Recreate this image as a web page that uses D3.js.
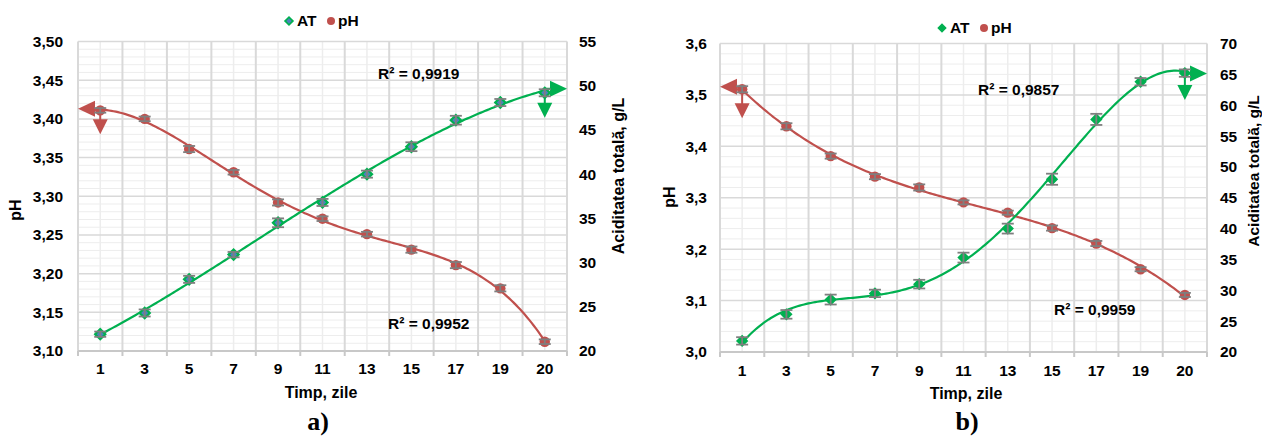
<!DOCTYPE html>
<html><head><meta charset="utf-8">
<script src="https://cdn.jsdelivr.net/npm/d3@7"></script>
<style>
body{margin:0;background:#fff}
svg{display:block}
text{font-family:"Liberation Sans",Arial,sans-serif;font-weight:bold;fill:#000}
</style>
</head><body>
<svg id="c" width="1262" height="437"></svg>
<script>
// ---------- DATA ----------
const days = ["1","3","5","7","9","11","13","15","17","19","20"];
const phA = [3.411,3.400,3.361,3.331,3.292,3.271,3.251,3.231,3.211,3.181,3.112];
const phErrA = [0.003,0.003,0.004,0.003,0.004,0.003,0.003,0.004,0.004,0.004,0.003];
const atA = [21.9,24.3,28.1,30.9,34.5,36.8,40.0,43.1,46.1,48.1,49.2];
const atErrA = [0.3,0.4,0.4,0.3,0.5,0.4,0.4,0.5,0.5,0.4,0.4];
const phB = [3.511,3.439,3.381,3.341,3.320,3.291,3.271,3.241,3.211,3.161,3.111];
const phErrB = [0.006,0.006,0.005,0.005,0.006,0.004,0.004,0.005,0.005,0.004,0.004];
const atB = [21.8,26.1,28.5,29.5,31.0,35.3,40.0,48.0,57.7,63.8,65.2];
const atErrB = [0.6,0.7,0.8,0.6,0.7,0.8,0.8,0.9,0.9,0.6,0.6];
const phTicksA = [3.10,3.15,3.20,3.25,3.30,3.35,3.40,3.45,3.50];
const atTicksA = [20,25,30,35,40,45,50,55];
const phTicksB = [3.0,3.1,3.2,3.3,3.4,3.5,3.6];
const atTicksB = [20,25,30,35,40,45,50,55,60,65,70];
const r2A = ["R² = 0,9919","R² = 0,9952"];
const r2B = ["R² = 0,9857","R² = 0,9959"];
const legendNames = ["AT","pH"];
const xTitle = "Timp, zile";
const yTitleL = "pH";
const yTitleR = "Aciditatea totală, g/L";
const panelLabels = ["a)","b)"];

const RED = "#c0504d", GREEN = "#00b050", BLUE = "#4f81bd", ERR = "#7f7f7f";
const svg = d3.select("#c");

function polyfit(xs, ys, deg){
  const c = 6, s = 5, n = deg+1;
  const M = Array.from({length:n},()=>new Array(n+1).fill(0));
  xs.forEach((x,k)=>{const t=(x-c)/s;
    for(let i=0;i<n;i++){for(let j=0;j<n;j++) M[i][j]+=Math.pow(t,i+j); M[i][n]+=Math.pow(t,i)*ys[k];}});
  for(let i=0;i<n;i++){
    let p=i; for(let r=i+1;r<n;r++) if(Math.abs(M[r][i])>Math.abs(M[p][i])) p=r;
    [M[i],M[p]]=[M[p],M[i]];
    for(let r=0;r<n;r++){ if(r===i) continue; const f=M[r][i]/M[i][i]; for(let q=i;q<=n;q++) M[r][q]-=f*M[i][q]; }
  }
  const coef = M.map((row,i)=>row[n]/row[i]);
  return x=>{const t=(x-c)/s; return coef.reduce((a,cf,i)=>a+cf*Math.pow(t,i),0);};
}

function chart(o){
  const {L,R,T,B} = o;
  const g = svg.append("g");
  const xb = d3.scaleBand().domain(days).range([L,R]);
  const xi = d3.scaleLinear().domain([0.5, days.length+0.5]).range([L,R]);
  const yl = d3.scaleLinear().domain(d3.extent(o.phTicks)).range([B,T]);
  const yr = d3.scaleLinear().domain(d3.extent(o.atTicks)).range([B,T]);
  const idx = days.map((d,i)=>i+1);

  // minor grid
  const minor=[];
  for(let i=0;i<o.phTicks.length-1;i++) for(let k=1;k<5;k++) minor.push(o.phTicks[i]+(o.phTicks[i+1]-o.phTicks[i])*k/5);
  g.append("g").selectAll("line").data(minor).join("line")
    .attr("x1",L).attr("x2",R).attr("y1",d=>yl(d)).attr("y2",d=>yl(d))
    .attr("stroke","#ededed").attr("stroke-width",1);
  g.append("g").selectAll("line").data(days).join("line")
    .attr("x1",d=>xb(d)+xb.bandwidth()/2).attr("x2",d=>xb(d)+xb.bandwidth()/2)
    .attr("y1",T).attr("y2",B).attr("stroke","#ededed").attr("stroke-width",1.5);
  // major grid
  g.append("g").selectAll("line").data(o.phTicks).join("line")
    .attr("x1",L).attr("x2",R).attr("y1",d=>yl(d)).attr("y2",d=>yl(d))
    .attr("stroke","#d9d9d9").attr("stroke-width",1.5);
  const edges = d3.range(0, days.length+1).map(i=>i+0.5);
  g.append("g").selectAll("line").data(edges).join("line")
    .attr("x1",d=>xi(d)).attr("x2",d=>xi(d)).attr("y1",T).attr("y2",B)
    .attr("stroke","#d9d9d9").attr("stroke-width",2);
  // bottom axis line + tick marks
  g.append("line").attr("x1",L).attr("x2",R).attr("y1",B).attr("y2",B).attr("stroke","#c8c8c8").attr("stroke-width",2);
  g.append("g").selectAll("line").data(edges).join("line")
    .attr("x1",d=>xi(d)).attr("x2",d=>xi(d)).attr("y1",B).attr("y2",B+5)
    .attr("stroke","#c8c8c8").attr("stroke-width",2);

  // axes
  const fmt = d=>d3.format(o.fmt)(d).replace(".",",");
  const ax1 = g.append("g").attr("transform",`translate(${L},0)`)
    .call(d3.axisLeft(yl).tickValues(o.phTicks).tickFormat(fmt).tickSize(0).tickPadding(o.padL));
  const ax2 = g.append("g").attr("transform",`translate(${R},0)`)
    .call(d3.axisRight(yr).tickValues(o.atTicks).tickFormat(d3.format("d")).tickSize(0).tickPadding(o.padR));
  const ax3 = g.append("g").attr("transform",`translate(0,${B})`)
    .call(d3.axisBottom(xb).tickSize(0).tickPadding(o.padB));
  [ax1,ax2,ax3].forEach(a=>{a.select(".domain").remove();
    a.selectAll("text").attr("font-size",15.5).attr("font-family","Liberation Sans, Arial, sans-serif").attr("font-weight","bold").attr("fill","#000");});

  // trendlines (polynomial, over the data range)
  const fPh = polyfit(idx, o.ph, o.degPh);
  const fAt = polyfit(idx, o.at, o.degAt);
  const line = (f,y)=>d3.line().x(d=>xi(d)).y(d=>y(f(d)));
  const rng = d3.range(1, 11.0001, 0.05);
  g.append("path").attr("d",line(fPh,yl)(rng)).attr("fill","none").attr("stroke",RED).attr("stroke-width",2.2);
  g.append("path").attr("d",line(fAt,yr)(rng)).attr("fill","none").attr("stroke",GREEN).attr("stroke-width",2.2);

  const cx = (d,i)=>xb(days[i])+xb.bandwidth()/2;

  // arrow annotations
  function hArrow(x0,y,xEdge,col){
    const dir = xEdge < x0 ? 1 : -1; // triangle base offset direction
    g.append("line").attr("x1",x0).attr("x2",xEdge+dir*15).attr("y1",y).attr("y2",y).attr("stroke",col).attr("stroke-width",2);
    g.append("polygon").attr("points",[[xEdge,y],[xEdge+dir*17,y-8],[xEdge+dir*17,y+8]].join(" ")).attr("fill",col);
  }
  function vArrow(x,y,off,col){
    g.append("line").attr("x1",x).attr("x2",x).attr("y1",y).attr("y2",y+off+2).attr("stroke",col).attr("stroke-width",2);
    g.append("polygon").attr("points",[[x-7.5,y+off],[x+7.5,y+off],[x,y+off+15]].join(" ")).attr("fill",col);
  }
  const p0 = [cx(0,0), yl(o.ph[0])];
  const pN = [cx(0,10), yr(o.at[10])];
  hArrow(p0[0], p0[1]+o.hOffRed, L, RED);
  vArrow(p0[0], p0[1], o.downRed, RED);
  hArrow(pN[0], pN[1]+o.hOffGreen, R, GREEN);
  vArrow(pN[0], pN[1], o.downGreen, GREEN);

  // markers
  g.append("g").selectAll("circle").data(o.ph).join("circle")
    .attr("cx",cx).attr("cy",d=>yl(d)).attr("r",5.2).attr("fill",RED);
  const dia = d3.symbol().type(d3.symbolSquare).size(52);
  g.append("g").selectAll("path").data(o.at).join("path")
    .attr("d",dia).attr("transform",(d,i)=>`translate(${cx(d,i)},${yr(d)}) rotate(45)`)
    .attr("fill",o.diaFill).attr("stroke",GREEN).attr("stroke-width",o.diaStroke);

  // error bars
  function errs(vals, es, y){
    const eg = g.append("g").attr("stroke",ERR).attr("stroke-width",1.8);
    vals.forEach((v,i)=>{
      const x=cx(v,i), y1=y(v-es[i]), y2=y(v+es[i]);
      eg.append("line").attr("x1",x).attr("x2",x).attr("y1",y1).attr("y2",y2);
      eg.append("line").attr("x1",x-6).attr("x2",x+6).attr("y1",y1).attr("y2",y1);
      eg.append("line").attr("x1",x-6).attr("x2",x+6).attr("y1",y2).attr("y2",y2);
    });
  }
  errs(o.ph, o.phErr, yl);
  errs(o.at, o.atErr, yr);

  // R² labels
  o.r2.forEach((t,i)=>{
    g.append("text").attr("x",o.r2pos[i][0]).attr("y",o.r2pos[i][1]).attr("dy","0.35em")
      .attr("font-size",15.5).text(t);
  });

  // legend
  const lg = g.append("g").attr("transform",`translate(${o.leg[0]},${o.leg[1]})`);
  lg.append("path").attr("d",d3.symbol().type(d3.symbolSquare).size(30)).attr("transform","rotate(45)")
    .attr("fill",o.diaFill).attr("stroke",GREEN).attr("stroke-width",o.diaStroke*0.8);
  lg.append("text").attr("x",8).attr("dy","0.35em").attr("font-size",15.5).text(legendNames[0]);
  lg.append("circle").attr("cx",42).attr("r",4).attr("fill",RED);
  lg.append("text").attr("x",49).attr("dy","0.35em").attr("font-size",15.5).text(legendNames[1]);

  // titles
  g.append("text").attr("transform",`translate(${o.yTL[0]},${o.yTL[1]}) rotate(-90)`).attr("text-anchor","middle").attr("dy","0.35em").attr("font-size",16).text(yTitleL);
  g.append("text").attr("transform",`translate(${o.yTR[0]},${o.yTR[1]}) rotate(-90)`).attr("text-anchor","middle").attr("dy","0.35em").attr("font-size",o.yTRsize).text(yTitleR);
  g.append("text").attr("x",o.xT[0]).attr("y",o.xT[1]).attr("text-anchor","middle").attr("dy","0.35em").attr("font-size",16).text(xTitle);
  g.append("text").attr("x",o.pl[0]).attr("y",o.pl[1]).attr("text-anchor","middle")
    .style("font-family","'Liberation Serif','Times New Roman',serif").attr("font-size",26).text(o.label);
}

chart({L:78,R:567,T:41.5,B:351, phTicks:phTicksA, atTicks:atTicksA, fmt:".2f",
  ph:phA, phErr:phErrA, at:atA, atErr:atErrA, degPh:4, degAt:3,
  padL:15, padR:12, padB:12, diaFill:BLUE, diaStroke:2.2,
  downRed:9, downGreen:10, hOffRed:-1.5, hOffGreen:-4,
  r2:r2A, r2pos:[[378,73.5],[388,324]], leg:[289,21],
  yTL:[15,210], yTR:[618,176], yTRsize:16, xT:[321,392], pl:[318,430], label:panelLabels[0]});

chart({L:720,R:1207,T:43.5,B:352, phTicks:phTicksB, atTicks:atTicksB, fmt:".1f",
  ph:phB, phErr:phErrB, at:atB, atErr:atErrB, degPh:3, degAt:4,
  padL:13, padR:13, padB:13, diaFill:GREEN, diaStroke:1.5,
  downRed:14, downGreen:12, hOffRed:-2.5, hOffGreen:0.5,
  r2:r2B, r2pos:[[978,89.5],[1054,310]], leg:[942,28],
  yTL:[669,197], yTR:[1254,171], yTRsize:15.5, xT:[966,393], pl:[967,430], label:panelLabels[1]});
</script>
</body></html>
